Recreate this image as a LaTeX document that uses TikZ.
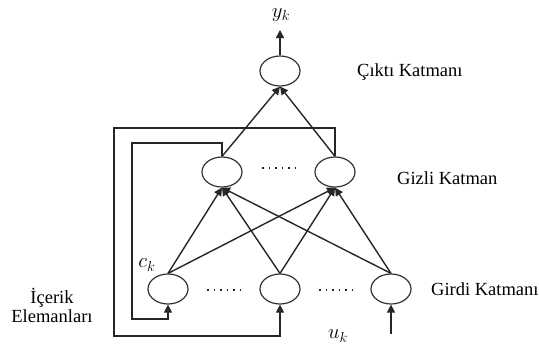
\documentclass[tikz,border=0pt]{standalone}
\usepackage{fontspec}
\setmainfont{Liberation Serif}
\usetikzlibrary{shapes.geometric,arrows.meta}
\begin{document}
\begin{tikzpicture}[x=1pt,y=-1pt,
 neuron/.style={ellipse,draw=black!80,line width=1.2pt,minimum width=40pt,minimum height=30pt,inner sep=0pt},
 conn/.style={line width=1.4pt,draw=black!85},
 arr/.style={conn,-{Triangle[length=8pt,width=8pt]}},
 lbl/.style={font=\fontsize{18.5}{20}\selectfont,anchor=west,inner sep=0pt},
 mlbl/.style={font=\fontsize{21}{23}\selectfont,inner sep=0pt},
 dotsline/.style={line width=1.5pt,draw=black!85,dash pattern=on 1.5pt off 5pt}]
\useasboundingbox (0,0) rectangle (539,349);
% neurons
\node[neuron] (out) at (280,71) {};
\node[neuron] (h1) at (222,172) {};
\node[neuron] (h2) at (335,172) {};
\node[neuron] (i1) at (168,289) {};
\node[neuron] (i2) at (280,289) {};
\node[neuron] (i3) at (391,289) {};
% labels
\node[mlbl] (yk) at (281,15) {$y_k$};
\node[mlbl] (ck) at (147,265) {$c_k$};
\node[mlbl] (uk) at (338,336) {$u_k$};
\node[lbl] (l1) at (357,72) {Çıktı Katmanı};
\node[lbl] (l2) at (397,178) {Gizli Katman};
\node[lbl] (l3) at (431,289) {Girdi Katmanı};
\node[font=\fontsize{18.5}{19}\selectfont,align=center,inner sep=0pt] (l4) at (52,305) {İçerik\\Elemanları};
% output arrow
\coordinate (ytip) at (280,30);
\draw[arr] (out.north) -- (ytip);
% hidden to output
\draw[arr] (h1.north) -- (out.south);
\draw[arr] (h2.north) -- (out.south);
% input to hidden
\foreach \i in {i1,i2,i3}{
  \draw[arr] (\i.north) -- (h1.south);
  \draw[arr] (\i.north) -- (h2.south);
}
% context loops
\coordinate (oa) at (335,128);
\coordinate (ob) at (114,128);
\coordinate (oc) at (114,336);
\coordinate (od) at (280,336);
\draw[arr] (h2.north) -- (oa) -- (ob) -- (oc) -- (od) -- (i2.south);
\coordinate (ia) at (222,143);
\coordinate (ib) at (132,143);
\coordinate (ic) at (132,319);
\coordinate (id) at (168,319);
\draw[arr] (h1.north) -- (ia) -- (ib) -- (ic) -- (id) -- (i1.south);
% external input
\coordinate (uin) at (391,334);
\draw[arr] (uin) -- (i3.south);
% dots
\draw[dotsline] (262,168) -- (298,168);
\draw[dotsline] (207,290) -- (243,290);
\draw[dotsline] (319,290) -- (355,290);
\end{tikzpicture}
\end{document}
